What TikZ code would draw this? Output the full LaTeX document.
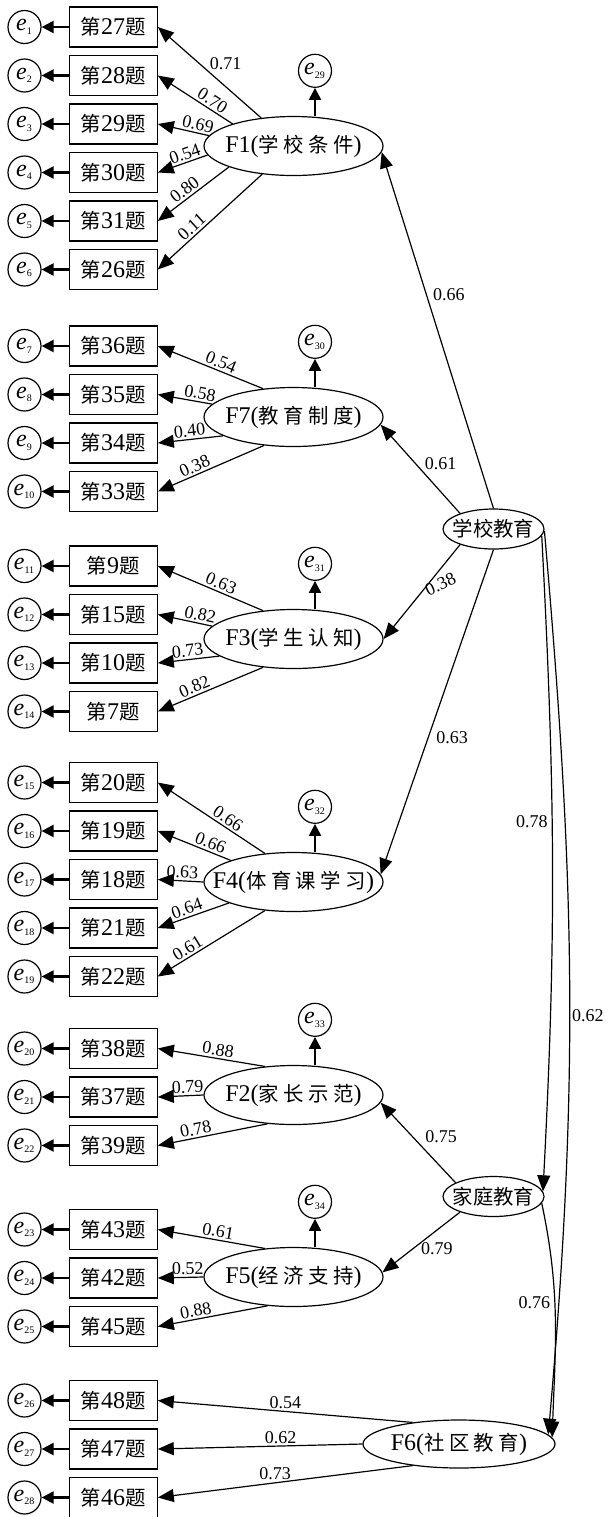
\documentclass[tikz,border=0pt]{standalone}
\usepackage{fontspec}
\setmainfont{Liberation Serif}
\newfontfamily\cjk{Noto Sans CJK SC}[Scale=0.85]
\newfontfamily\cjkw{Noto Sans CJK SC}[Scale=0.85,LetterSpace=22]
\usetikzlibrary{arrows.meta,shapes.geometric,positioning}

% item text, error label, zero-width label for ellipses
\newcommand{\tihao}[1]{{\cjk 第}#1{\cjk 题}}
\newcommand{\errlab}[1]{\textit{e}\textsubscript{\fontsize{5}{5}\selectfont #1}}
\newcommand{\nowd}[1]{\makebox[0pt]{#1}}

\tikzset{
  qbox/.style={draw, line width=0.6pt, minimum width=44pt, minimum height=20pt, inner sep=0pt, font=\fontsize{12}{12}\selectfont},
  ecirc/.style={draw, circle, line width=0.6pt, minimum size=16.5pt, inner sep=0pt, font=\fontsize{12}{12}\selectfont},
  factor/.style={draw, ellipse, line width=0.6pt, minimum width=89.5pt, minimum height=29.5pt, inner sep=0pt, font=\fontsize{12}{12}\selectfont},
  latent/.style={draw, ellipse, line width=0.6pt, minimum width=50.5pt, minimum height=20pt, inner sep=0pt, font=\fontsize{12}{12}\selectfont},
  ld/.style={-{Triangle[length=8pt,width=6.5pt]}, line width=0.6pt},
  ea/.style={-{Triangle[length=6pt,width=6pt]}, line width=1.1pt},
  coef/.style={font=\fontsize{9}{9}\selectfont, inner sep=1pt}
}

\begin{document}
\begin{tikzpicture}[x=0.5pt, y=-0.5pt]
\useasboundingbox (0,0) rectangle (609,1517);

% F1 block
\node[factor] (F1) at (293.5,146) {\nowd{F1({\cjkw 学校条件})}};
\node[ecirc, above=14pt of F1, xshift=10.75pt] (e29) {\errlab{29}};
\draw[ea] (F1.north -| e29) -- (e29);
\foreach \i/\y/\q in {1/27/27, 2/75.5/28, 3/124/29, 4/172.5/30, 5/221/31, 6/269.5/26}{
  \node[qbox] (q\i) at (113.2,\y) {\tihao{\q}};
  \node[ecirc] (e\i) at (24.5,\y) {\errlab{\i}};
  \draw[ea] (q\i) -- (e\i);
}
\draw[ld] (F1.139) -- (q1.east) node[coef, pos=0.6, right=4pt] {0.71};
\draw[ld] (F1.160) -- (q2.east) node[coef, pos=0.33, sloped, above] {0.70};
\draw[ld] (F1.173) -- (q3.east) node[coef, pos=0.25, sloped, above] {0.69};
\draw[ld] (F1.186) -- (q4.east) node[coef, pos=0.4, sloped, above] {0.54};
\draw[ld] (F1.198) -- (q5.east) node[coef, pos=0.55, sloped, above] {0.80};
\draw[ld] (F1.222) -- (q6.east) node[coef, pos=0.62, sloped, above] {0.11};

% F7 block
\node[factor] (F7) at (293.5,417) {\nowd{F7({\cjkw 教育制度})}};
\node[ecirc, above=14pt of F7, xshift=10.75pt] (e30) {\errlab{30}};
\draw[ea] (F7.north -| e30) -- (e30);
\foreach \i/\y/\q in {7/346/36, 8/394.5/35, 9/443/34, 10/491.5/33}{
  \node[qbox] (q\i) at (113.2,\y) {\tihao{\q}};
  \node[ecirc] (e\i) at (24.5,\y) {\errlab{\i}};
  \draw[ea] (q\i) -- (e\i);
}
\draw[ld] (F7.137) -- (q7.east) node[coef, pos=0.43, sloped, above] {0.54};
\draw[ld] (F7.171) -- (q8.east) node[coef, pos=0.25, sloped, above] {0.58};
\draw[ld] (F7.195) -- (q9.east) node[coef, pos=0.5, sloped, above] {0.40};
\draw[ld] (F7.224) -- (q10.east) node[coef, pos=0.62, sloped, above] {0.38};

% F3 block
\node[factor] (F3) at (293.5,639) {\nowd{F3({\cjkw 学生认知})}};
\node[ecirc, above=14pt of F3, xshift=10.75pt] (e31) {\errlab{31}};
\draw[ea] (F3.north -| e31) -- (e31);
\foreach \i/\y/\q in {11/566/9, 12/614.5/15, 13/663/10, 14/711.5/7}{
  \node[qbox] (q\i) at (113.2,\y) {\tihao{\q}};
  \node[ecirc] (e\i) at (24.5,\y) {\errlab{\i}};
  \draw[ea] (q\i) -- (e\i);
}
\draw[ld] (F3.137) -- (q11.east) node[coef, pos=0.43, sloped, above] {0.63};
\draw[ld] (F3.171) -- (q12.east) node[coef, pos=0.25, sloped, above] {0.82};
\draw[ld] (F3.193) -- (q13.east) node[coef, pos=0.5, sloped, above] {0.73};
\draw[ld] (F3.223) -- (q14.east) node[coef, pos=0.62, sloped, above] {0.82};

% F4 block
\node[factor] (F4) at (293.5,882) {\nowd{F4({\cjkw 体育课学习})}};
\node[ecirc, above=14pt of F4, xshift=10.75pt] (e32) {\errlab{32}};
\draw[ea] (F4.north -| e32) -- (e32);
\foreach \i/\y/\q in {15/782.5/20, 16/831/19, 17/879.5/18, 18/928/21, 19/976.5/22}{
  \node[qbox] (q\i) at (113.2,\y) {\tihao{\q}};
  \node[ecirc] (e\i) at (24.5,\y) {\errlab{\i}};
  \draw[ea] (q\i) -- (e\i);
}
\draw[ld] (F4.135) -- (q15.east) node[coef, pos=0.39, sloped, above] {0.66};
\draw[ld] (F4.161) -- (q16.east) node[coef, pos=0.32, sloped, above] {0.66};
\draw[ld] (F4.west) -- (q17.east) node[coef, pos=0.47, sloped, above] {0.63};
\draw[ld] (F4.198) -- (q18.east) node[coef, pos=0.55, sloped, above] {0.64};
\draw[ld] (F4.225) -- (q19.east) node[coef, pos=0.68, sloped, above] {0.61};

% F2 block
\node[factor] (F2) at (293.5,1095) {\nowd{F2({\cjkw 家长示范})}};
\node[ecirc, above=14pt of F2, xshift=10.75pt] (e33) {\errlab{33}};
\draw[ea] (F2.north -| e33) -- (e33);
\foreach \i/\y/\q in {20/1048.5/38, 21/1097/37, 22/1145.5/39}{
  \node[qbox] (q\i) at (113.2,\y) {\tihao{\q}};
  \node[ecirc] (e\i) at (24.5,\y) {\errlab{\i}};
  \draw[ea] (q\i) -- (e\i);
}
\draw[ld] (F2.135) -- (q20.east) node[coef, pos=0.45, sloped, above] {0.88};
\draw[ld] (F2.west) -- (q21.east) node[coef, pos=0.34, sloped, above] {0.79};
\draw[ld] (F2.228) -- (q22.east) node[coef, pos=0.64, sloped, above] {0.78};

% F5 block
\node[factor] (F5) at (293.5,1277) {\nowd{F5({\cjkw 经济支持})}};
\node[ecirc, above=14pt of F5, xshift=10.75pt] (e34) {\errlab{34}};
\draw[ea] (F5.north -| e34) -- (e34);
\foreach \i/\y/\q in {23/1229.5/43, 24/1278/42, 25/1326.5/45}{
  \node[qbox] (q\i) at (113.2,\y) {\tihao{\q}};
  \node[ecirc] (e\i) at (24.5,\y) {\errlab{\i}};
  \draw[ea] (q\i) -- (e\i);
}
\draw[ld] (F5.135) -- (q23.east) node[coef, pos=0.45, sloped, above] {0.61};
\draw[ld] (F5.west) -- (q24.east) node[coef, pos=0.34, sloped, above] {0.52};
\draw[ld] (F5.228) -- (q25.east) node[coef, pos=0.64, sloped, above] {0.88};

% F6 block
\node[factor, minimum width=96pt, minimum height=24pt] (F6) at (459,1444) {\nowd{F6({\cjkw 社区教育})}};
\foreach \i/\y/\q in {26/1400.5/48, 27/1449/47, 28/1497.5/46}{
  \node[qbox] (q\i) at (113.2,\y) {\tihao{\q}};
  \node[ecirc] (e\i) at (24.5,\y) {\errlab{\i}};
  \draw[ea] (q\i) -- (e\i);
}
\draw[ld] (F6.155) -- (q26.east) node[coef, pos=0.5, above] {0.54};
\draw[ld] (F6.west) -- (q27.east) node[coef, pos=0.4, above] {0.62};
\draw[ld] (F6.205) -- (q28.east) node[coef, pos=0.54, above] {0.73};

% second order factors
\node[latent] (school) at (493.5,529) {\nowd{{\cjk 学校教育}}};
\node[latent] (family) at (493.5,1196.5) {\nowd{{\cjk 家庭教育}}};

\draw[ld] (school.north) -- (F1.-4) node[coef, pos=0.6, right=2pt] {0.66};
\draw[ld] (school.155) -- (F7.-5) node[coef, pos=0.56, right=3.3pt] {0.61};
\draw[ld] (school.-155) -- (F3.east) node[coef, pos=0.5, right=1pt, rotate=25] {0.38};
\draw[ld] (school.south) -- (F4.5) node[coef, pos=0.58, right=2.8pt] {0.63};
\draw[ld] (school.-8) to[out=-87, in=87] node[coef, pos=0.43, left=1pt] {0.78} (family.6);
\draw[ld] (school.-2) to[out=-85, in=85] node[coef, pos=0.54, right=0pt] {0.62} (F6.6);
\draw[ld] (family.160) -- (F2.-5) node[coef, pos=0.57, right=5pt] {0.75};
\draw[ld] (family.-155) -- (F5.3) node[coef, pos=0.3, below=5pt] {0.79};
\draw[ld] (family.-8) to[out=-78, in=88] node[coef, pos=0.42, left=1pt] {0.76} (F6.4);

\end{tikzpicture}
\end{document}
